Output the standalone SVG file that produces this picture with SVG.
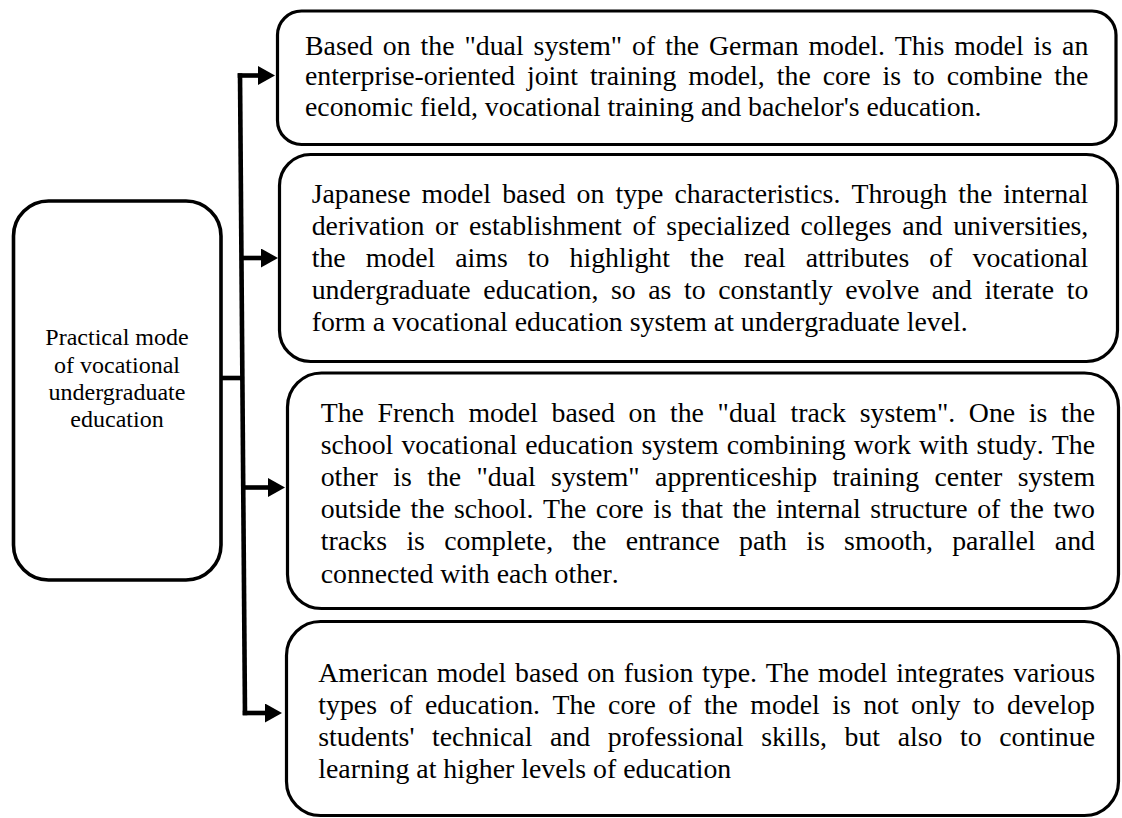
<svg xmlns="http://www.w3.org/2000/svg" width="1122" height="818" viewBox="0 0 1122 818">
  <style>
    .box { fill: #ffffff; stroke: #000000; stroke-width: 3.2; }
    .hub { fill: #ffffff; stroke: #000000; stroke-width: 3.6; }
    .wire { fill: none; stroke: #000000; stroke-width: 4.6; stroke-linecap: butt; }
    .body { font-family: "Liberation Serif", "Times New Roman", serif; font-size: 27.8px; fill: #000000; font-kerning: none; }
    .hubtext { font-family: "Liberation Serif", "Times New Roman", serif; font-size: 24px; fill: #000000; text-anchor: middle; }
  </style>
  <defs>
    <marker id="head" viewBox="0 0 17 19" refX="0" refY="9.5" markerWidth="17" markerHeight="19" markerUnits="userSpaceOnUse" orient="auto">
      <path d="M0,0 L17,9.5 L0,19 Z" fill="#000000"/>
    </marker>
  </defs>
  <rect width="1122" height="818" fill="#ffffff"/>

  <!-- connectors: stub from the hub, vertical bus, four branch arrows -->
  <g id="connectors">
    <line class="wire" x1="221" y1="378" x2="242" y2="378"/>
    <line class="wire" x1="240" y1="73.2" x2="245" y2="715.3"/>
    <line class="wire" x1="237.7" y1="75.5" x2="258" y2="75.5" marker-end="url(#head)"/>
    <line class="wire" x1="241" y1="258" x2="261" y2="258" marker-end="url(#head)"/>
    <line class="wire" x1="243" y1="487.5" x2="268" y2="487.5" marker-end="url(#head)"/>
    <line class="wire" x1="242.7" y1="713" x2="265" y2="713" marker-end="url(#head)"/>
  </g>

  <!-- hub node -->
  <g id="hub">
    <rect class="hub" x="13.5" y="201" width="207.5" height="379" rx="35" ry="35"/>
    <text class="hubtext" x="117" y="345">Practical mode</text>
    <text class="hubtext" x="117" y="372.7">of vocational</text>
    <text class="hubtext" x="117" y="400">undergraduate</text>
    <text class="hubtext" x="117" y="427">education</text>
  </g>

  <!-- German model -->
  <g id="german">
    <rect class="box" x="277.5" y="11" width="838.5" height="133.5" rx="24" ry="24"/>
    <text class="body" x="305" y="55" word-spacing="2.97" textLength="783.3" lengthAdjust="spacing">Based on the "dual system" of the German model. This model is an</text>
    <text class="body" x="305" y="85.3" word-spacing="5.02" textLength="783.3" lengthAdjust="spacing">enterprise-oriented joint training model, the core is to combine the</text>
    <text class="body" x="305" y="115.5">economic field, vocational training and bachelor's education.</text>
  </g>

  <!-- Japanese model -->
  <g id="japanese">
    <rect class="box" x="279.5" y="154.5" width="838" height="207" rx="31" ry="31"/>
    <text class="body" x="311.7" y="203.3" word-spacing="4.14" textLength="776.6" lengthAdjust="spacing">Japanese model based on type characteristics. Through the internal</text>
    <text class="body" x="311.7" y="235.2" word-spacing="3.73" textLength="776.6" lengthAdjust="spacing">derivation or establishment of specialized colleges and universities,</text>
    <text class="body" x="311.7" y="267" word-spacing="13.1" textLength="776.6" lengthAdjust="spacing">the model aims to highlight the real attributes of vocational</text>
    <text class="body" x="311.7" y="298.8" word-spacing="5.66" textLength="776.6" lengthAdjust="spacing">undergraduate education, so as to constantly evolve and iterate to</text>
    <text class="body" x="311.7" y="330.8">form a vocational education system at undergraduate level.</text>
  </g>

  <!-- French model -->
  <g id="french">
    <rect class="box" x="287.5" y="373" width="831" height="235.5" rx="34" ry="34"/>
    <text class="body" x="320.7" y="421.7" word-spacing="6.7" textLength="774.3" lengthAdjust="spacing">The French model based on the "dual track system". One is the</text>
    <text class="body" x="320.7" y="453.8" word-spacing="1.14" textLength="774.3" lengthAdjust="spacing">school vocational education system combining work with study. The</text>
    <text class="body" x="320.7" y="486" word-spacing="8.44" textLength="774.3" lengthAdjust="spacing">other is the "dual system" apprenticeship training center system</text>
    <text class="body" x="320.7" y="518.2" word-spacing="2.57" textLength="774.3" lengthAdjust="spacing">outside the school. The core is that the internal structure of the two</text>
    <text class="body" x="320.7" y="550.4" word-spacing="12.34" textLength="774.3" lengthAdjust="spacing">tracks is complete, the entrance path is smooth, parallel and</text>
    <text class="body" x="320.7" y="582.6">connected with each other.</text>
  </g>

  <!-- American model -->
  <g id="american">
    <rect class="box" x="286.5" y="621.5" width="832" height="194" rx="34" ry="34"/>
    <text class="body" x="318.3" y="682" word-spacing="1.89" textLength="776.7" lengthAdjust="spacing">American model based on fusion type. The model integrates various</text>
    <text class="body" x="318.3" y="713.8" word-spacing="5.47" textLength="776.7" lengthAdjust="spacing">types of education. The core of the model is not only to develop</text>
    <text class="body" x="318.3" y="745.6" word-spacing="10.65" textLength="776.7" lengthAdjust="spacing">students' technical and professional skills, but also to continue</text>
    <text class="body" x="318.3" y="777.5">learning at higher levels of education</text>
  </g>
</svg>
